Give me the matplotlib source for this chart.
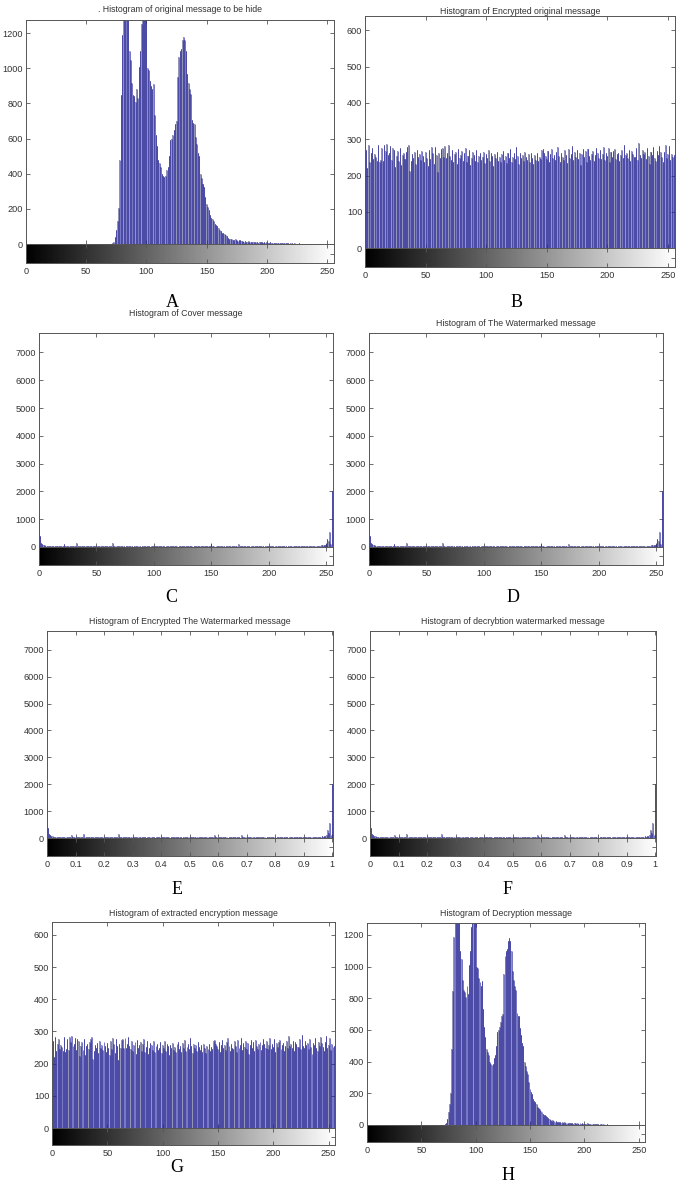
import numpy as np
import matplotlib
matplotlib.use("Agg")
import matplotlib.pyplot as plt

plt.rcParams['font.family'] = ['Liberation Sans', 'DejaVu Sans']

# gray levels 0..255
levels = np.arange(256)

# histogram of the original (and decrypted) message
original = [0] * 72 + [
    5, 10, 40, 80, 130, 204, 478, 847, 1187, 1300, 1350, 1320, 1290, 1310, 1100, 1050,
    915, 850, 840, 810, 880, 830, 1010, 1100, 1250, 1300, 1350, 1320, 1300, 1000, 990, 930,
    900, 880, 910, 735, 620, 555, 480, 460, 440, 400, 385, 380, 385, 420, 440, 500,
    590, 600, 620, 650, 685, 700, 950, 1065, 1100, 1110, 1160, 1180, 1160, 1100, 970, 915,
    880, 855, 705, 690, 685, 610, 570, 520, 500, 400, 375, 340, 325, 270, 225, 210,
    195, 165, 150, 145, 130, 115, 110, 100, 90, 80, 72, 65, 62, 55, 53, 45,
    35, 30, 28, 30, 25, 22, 27, 20, 18, 22, 20, 15, 18, 12, 16, 14,
    12, 15, 10, 13, 11, 14, 9, 12, 10, 8, 12, 9, 11, 7, 10, 8,
    9, 6, 8, 10, 7, 5, 8, 6, 7, 5, 6, 4, 6, 5, 3, 4,
    5, 3, 4, 2, 3, 4, 2, 3, 2, 1, 2, 3, 1, 2, 1, 0,
    1, 0, 1, 0, 0, 0, 0, 0, 0, 0, 0, 0, 0, 0, 0, 0,
    0, 0, 0, 0, 0, 0, 0, 0,
]

# histogram of the encrypted message
encrypted = [
    214, 271, 222, 284, 238, 262, 275, 246, 259, 252, 240, 283, 236, 244, 276, 241,
    283, 268, 287, 256, 262, 281, 243, 276, 270, 223, 255, 268, 241, 275, 228, 256,
    262, 246, 266, 278, 284, 213, 239, 258, 247, 265, 232, 271, 250, 259, 243, 268,
    254, 237, 265, 248, 226, 270, 245, 279, 261, 233, 278, 256, 211, 262, 249, 273,
    276, 250, 281, 247, 262, 283, 255, 244, 271, 238, 259, 266, 231, 273, 249, 257,
    268, 240, 262, 275, 236, 253, 270, 229, 247, 264, 257, 241, 269, 236, 255, 262,
    243, 250, 266, 234, 258, 247, 271, 239, 262, 254, 226, 259, 248, 265, 241, 252,
    237, 260, 268, 244, 255, 235, 263, 249, 273, 238, 251, 262, 246, 279, 255, 233,
    261, 248, 257, 240, 266, 251, 243, 258, 237, 262, 249, 232, 256, 244, 261, 239,
    252, 246, 270, 274, 262, 255, 245, 268, 236, 259, 272, 248, 257, 243, 266, 279,
    254, 238, 262, 250, 244, 269, 256, 235, 272, 247, 259, 281, 242, 265, 251, 271,
    246, 263, 229, 258, 272, 250, 267, 238, 274, 255, 244, 260, 268, 241, 257, 276,
    262, 249, 270, 246, 258, 279, 244, 262, 253, 277, 237, 265, 251, 268, 274, 246,
    259, 263, 240, 256, 270, 248, 285, 256, 262, 247, 271, 239, 268, 260, 251, 252,
    276, 244, 289, 256, 247, 270, 258, 265, 246, 275, 253, 231, 265, 257, 279, 249,
    240, 268, 256, 282, 264, 252, 238, 266, 285, 247, 258, 281, 242, 260, 252, 256,
]

# histogram of the cover / watermarked message
cover = [
    1220, 390, 150, 110, 80, 60, 45, 40, 35, 30, 38, 42, 30, 25, 35, 40,
    30, 28, 45, 35, 30, 40, 120, 35, 30, 28, 40, 45, 30, 35, 25, 40,
    38, 160, 50, 35, 30, 42, 28, 25, 30, 35, 20, 25, 30, 22, 35, 28,
    40, 30, 25, 35, 45, 30, 20, 38, 42, 25, 30, 35, 28, 20, 30, 40,
    146, 45, 30, 25, 35, 40, 22, 30, 28, 35, 20, 0, 30, 25, 40, 35,
    28, 30, 0, 25, 35, 30, 20, 28, 40, 0, 30, 25, 35, 22, 30, 28,
    20, 0, 25, 30, 35, 28, 22, 30, 40, 25, 30, 35, 20, 28, 0, 30,
    25, 35, 28, 40, 30, 22, 25, 35, 30, 0, 28, 20, 30, 25, 35, 40,
    30, 28, 22, 35, 25, 30, 0, 28, 40, 30, 25, 20, 35, 30, 28, 22,
    30, 25, 35, 40, 28, 30, 100, 30, 25, 0, 22, 30, 35, 28, 20, 30,
    25, 35, 0, 28, 30, 22, 40, 30, 25, 35, 28, 30, 20, 0, 120, 30,
    25, 35, 28, 30, 22, 40, 30, 25, 0, 35, 28, 30, 20, 30, 25, 35,
    45, 28, 30, 22, 0, 30, 25, 35, 28, 40, 30, 20, 25, 0, 30, 35,
    28, 22, 30, 25, 35, 40, 30, 28, 0, 25, 20, 30, 35, 28, 45, 30,
    25, 35, 40, 30, 28, 22, 30, 25, 35, 30, 28, 40, 30, 25, 35, 30,
    40, 35, 45, 30, 50, 40, 60, 55, 60, 80, 110, 300, 200, 550, 120, 2000,
]

# (title, counts, x scale, [left, right, top, zero, bottom] in px, ytop, ystep, title y, letter, letter xy)
panels = [
    (". Histogram of original message to be hide", original, 255, [26, 334, 20, 244, 263], 1275, 200, 10, "A", (172, 302)),
    ("Histogram of Encrypted original message", encrypted, 255, [365, 675, 16, 248, 267], 640, 100, 11, "B", (517, 302)),
    ("Histogram of Cover message", cover, 255, [39, 333, 333, 547, 565], 7700, 1000, 313, "C", (171, 598)),
    ("Histogram of The Watermarked message", cover, 255, [369, 663, 333, 547, 565], 7700, 1000, 323, "D", (513, 598)),
    ("Histogram of Encrypted The Watermarked message", cover, 1, [47, 333, 631, 838, 856], 7700, 1000, 621, "E", (177, 890)),
    ("Histogram of decrybtion watermarked message", cover, 1, [370, 656, 631, 838, 856], 7700, 1000, 621, "F", (508, 890)),
    ("Histogram of extracted encryption message", encrypted, 255, [52, 335, 922, 1128, 1145], 640, 100, 913, "G", (177, 1167)),
    ("Histogram of Decryption message", original, 255, [367, 645, 923, 1125, 1142], 1275, 200, 913, "H", (508, 1175)),
]

W, H = 685, 1182
fig = plt.figure(figsize=(W / 100, H / 100), dpi=100)


def px_axes(l, r, t, b):
    return fig.add_axes([l / W, 1 - b / H, (r - l) / W, (b - t) / H])


frame = '#555555'
for title, counts, xmax, box, ytop, ystep, ty, letter, lxy in panels:
    l, r, t, z, b = box
    x = levels / 255 * xmax
    w = xmax / 255
    xright = xmax * 255.8 / 255

    ax = px_axes(l, r, t, z)
    ax.bar(x, counts, width=w * 0.85, color='#9494b6', linewidth=0)
    ax.vlines(x, 0, counts, color='#1a1a9c', lw=0.42)
    ax.set_xlim(0, xright)
    ax.set_ylim(0, ytop)
    ax.set_yticks(np.arange(0, ytop, ystep))
    if xmax == 1:
        xt = np.round(np.arange(0, 1.01, 0.1), 1)
    else:
        xt = np.arange(0, 251, 50)
    ax.set_xticks(xt)
    ax.tick_params(direction='in', top=True, right=True, labelbottom=False,
                   length=3, width=0.6, color=frame, labelsize=6.6, labelcolor='#333333', pad=2)
    for s in ax.spines.values():
        s.set_color(frame)
        s.set_linewidth(0.7)

    cax = px_axes(l, r, z, b)
    cax.imshow(np.linspace(0, 1, 256)[None, :], cmap='gray', aspect='auto',
               extent=[0, xright, 0, 1], interpolation='bilinear')
    cax.set_xlim(0, xright)
    cax.set_ylim(0, 1)
    cax.set_xticks(xt)
    cax.set_xticklabels(['%g' % v for v in xt])
    cax.set_yticks([0.5])
    cax.tick_params(direction='in', top=True, right=True, left=False, labelleft=False,
                    length=3, width=0.6, color=frame, labelsize=6.6, labelcolor='#333333', pad=3)
    for s in cax.spines.values():
        s.set_color(frame)
        s.set_linewidth(0.7)

    fig.text((l + r) / 2 / W, 1 - ty / H, title, ha='center', va='center',
             fontsize=6.3, color='#333333')
    fig.text(lxy[0] / W, 1 - lxy[1] / H, letter, ha='center', va='center',
             fontsize=13, family='Liberation Serif', color='black')

fig.savefig('out.png', dpi=100)
